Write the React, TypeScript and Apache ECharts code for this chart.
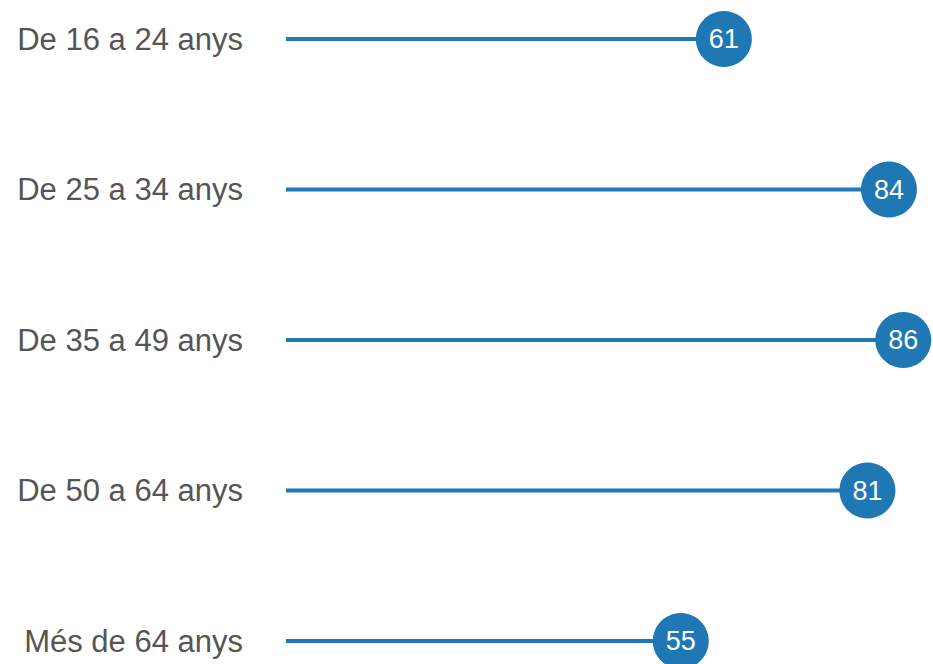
import React, { useEffect, useRef } from "react";
import * as echarts from "echarts";

const categories = [
  "De 16 a 24 anys",
  "De 25 a 34 anys",
  "De 35 a 49 anys",
  "De 50 a 64 anys",
  "Més de 64 anys",
];
const values = [61, 84, 86, 81, 55];

const FONT = "'Liberation Sans', Arial, sans-serif";
const BLUE = "#1f77b4";

export default function App() {
  const ref = useRef<HTMLDivElement>(null);
  useEffect(() => {
    if (!ref.current) return;
    const chart = echarts.init(ref.current, null, { renderer: "svg" });
    chart.setOption({
      animation: false,
      grid: { left: 286, right: 1, top: 39, bottom: 23, containLabel: false },
      xAxis: {
        type: "value",
        min: 0,
        max: 90,
        show: false,
      },
      yAxis: {
        type: "category",
        data: categories,
        inverse: true,
        boundaryGap: false,
        axisLine: { show: false },
        axisTick: { show: false },
        splitLine: { show: false },
        axisLabel: {
          margin: 43,
          color: "#555555",
          fontSize: 31,
          fontFamily: FONT,
        },
      },
      series: [
        {
          type: "bar",
          data: values,
          barWidth: 4,
          itemStyle: { color: BLUE },
          silent: true,
        },
        {
          type: "scatter",
          data: values.map((v, i) => [v, categories[i]]),
          symbol: "circle",
          symbolSize: 56,
          itemStyle: { color: BLUE, opacity: 1 },
          label: {
            show: true,
            position: "inside",
            formatter: (p: any) => String(p.value[0]),
            color: "#ffffff",
            fontSize: 27,
            fontFamily: FONT,
          },
          z: 3,
        },
      ],
    });
    return () => chart.dispose();
  }, []);
  return (
    <div
      ref={ref}
      style={{ position: "fixed", left: 0, top: 0, width: 933, height: 664, background: "#ffffff" }}
    />
  );
}
